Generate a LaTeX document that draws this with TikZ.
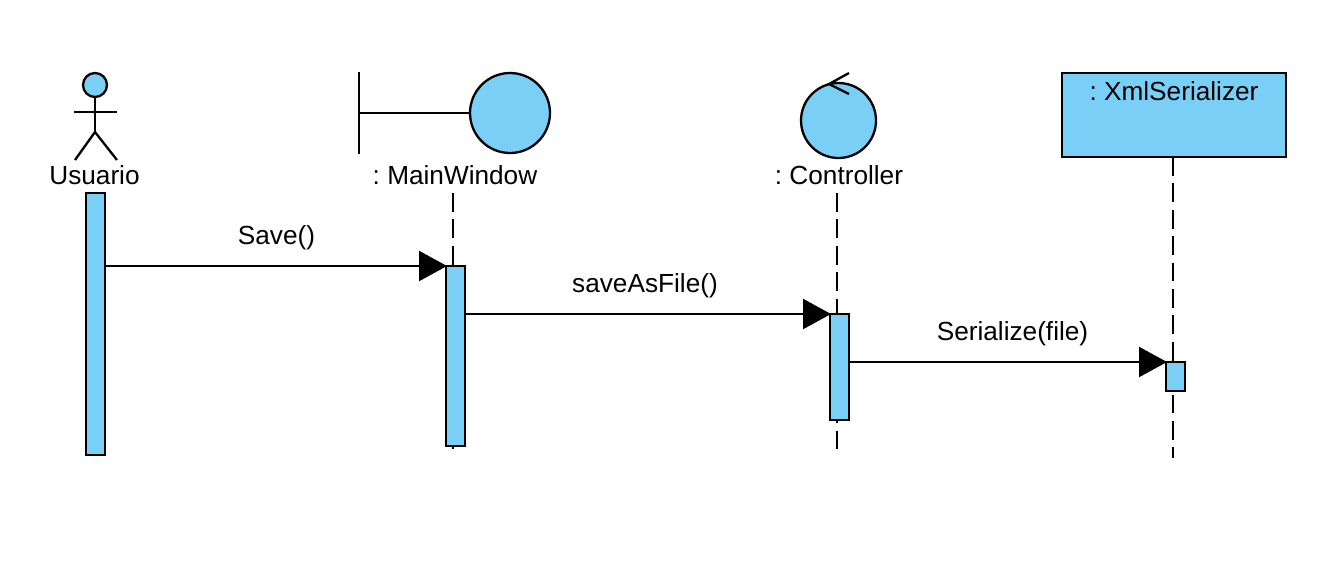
\documentclass[tikz,border=0pt]{standalone}
\usepackage{fontspec}
\setmainfont{Liberation Sans}
\usetikzlibrary{arrows.meta}
\definecolor{umlblue}{HTML}{7ACFF6}
\tikzset{
	txt/.style={font=\frenchspacing\fontsize{13.1}{15}\selectfont, inner sep=0pt},
	bar/.style={draw, fill=umlblue, minimum width=9.5pt, inner sep=0pt, outer sep=0pt},
	blob/.style={circle, draw, fill=umlblue, inner sep=0pt, outer sep=0pt},
	lifeline/.style={dash pattern=on 9.4pt off 3.8pt},
	msg/.style={-{Triangle[length=14pt,width=15pt]}, shorten >=-0.5pt},
}
\begin{document}
\begin{tikzpicture}[x=0.5pt, y=-0.5pt, line width=1.15pt]
	\useasboundingbox (0,0) rectangle (1326,580);

	% actor
	\node[blob, minimum size=12pt] (head) at (95,85) {};
	\coordinate (hip) at (95,132);
	\coordinate (armL) at (74,112);
	\coordinate (armR) at (117,112);
	\coordinate (legL) at (75,160);
	\coordinate (legR) at (117,160);
	\draw (head.south) -- (hip);
	\draw (armL) -- (armR);
	\draw (legL) -- (hip) -- (legR);
	\draw (94.5,175.5) node[txt] (usuarioLabel) {Usuario};

	% boundary
	\node[blob, minimum size=40pt] (mainCircle) at (510,113) {};
	\coordinate (mainWallT) at (359,72);
	\coordinate (mainWallB) at (359,154);
	\coordinate (mainWallM) at (359,113);
	\draw (mainWallT) -- (mainWallB);
	\draw (mainWallM) -- (mainCircle.west);
	\draw (455,175.5) node[txt] (mainLabel) {: MainWindow};

	% control
	\node[blob, minimum size=37.5pt] (ctrlCircle) at (838.5,120.5) {};
	\coordinate (ctrlTipA) at (849,73);
	\coordinate (ctrlTipB) at (849,94);
	\coordinate (ctrlTip) at (829,84);
	\draw (ctrlTipA) -- (ctrlTip) -- (ctrlTipB);
	\draw (839,175.5) node[txt] (ctrlLabel) {: Controller};

	% entity box
	\node[draw, fill=umlblue, minimum width=112pt, minimum height=42pt, inner sep=0pt, outer sep=0pt] (xmlBox) at (1174,115) {};
	\draw (1174,91.5) node[txt] (xmlLabel) {: XmlSerializer};

	% life lines
	\coordinate (mainTop) at (453,193);
	\coordinate (mainEnd) at (453,450);
	\coordinate (ctrlTop) at (837,193);
	\coordinate (ctrlEnd) at (837,450);
	\coordinate (xmlEnd) at (1173,458);
	\draw[lifeline] (mainTop) -- (mainEnd);
	\draw[lifeline] (ctrlTop) -- (ctrlEnd);
	\draw[lifeline] (xmlBox.south -| xmlEnd) -- (xmlEnd);

	% activations
	\node[bar, minimum height=131pt] (usuarioBar) at (95.5,324) {};
	\node[bar, minimum height=90pt] (mainBar) at (455.5,356) {};
	\node[bar, minimum height=53pt] (ctrlBar) at (839.5,367) {};
	\node[bar, minimum height=14.5pt] (xmlBar) at (1175.5,376.5) {};

	% messages
	\draw[msg] (usuarioBar.east |- mainBar.north) -- (mainBar.north west);
	\draw[msg] (mainBar.east |- ctrlBar.north) -- (ctrlBar.north west);
	\draw[msg] (ctrlBar.east |- xmlBar.north) -- (xmlBar.north west);

	\draw (276.5,237.5) node[txt] (saveLabel) {Save()};
	\draw (645,285.5) node[txt] (saveFileLabel) {saveAsFile()};
	\draw (1012.5,333.5) node[txt] (serializeLabel) {Serialize(file)};

\end{tikzpicture}
\end{document}
